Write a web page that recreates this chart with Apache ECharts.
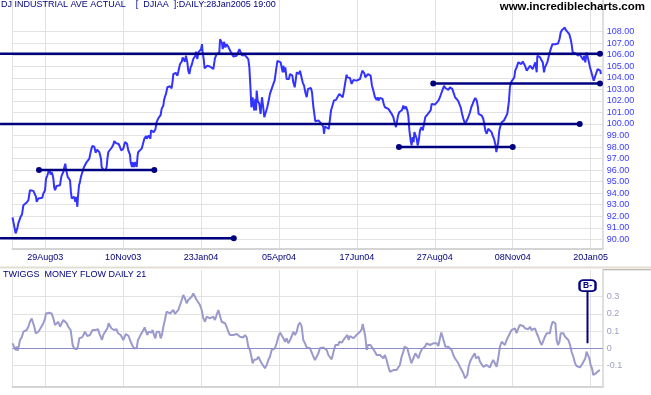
<!DOCTYPE html>
<html><head><meta charset="utf-8">
<script src="https://cdn.jsdelivr.net/npm/echarts@6/dist/echarts.min.js"></script>
<style>html,body{margin:0;padding:0;background:#fff}#c{width:651px;height:395px}</style>
</head><body><div id="c"></div>
<script>
// trading-day index on x (0 = first day shown)
const xTickDays = [21, 71, 121, 171, 221, 271, 321, 371];
const xTickLabels = ['29Aug03','10Nov03','23Jan04','05Apr04','17Jun04','27Aug04','08Nov04','20Jan05'];
const priceTicks = [90,91,92,93,94,95,96,97,98,99,100,101,102,103,104,105,106,107,108];
const flowTicks = [-0.1, 0, 0.1, 0.2, 0.3];

const priceData = [[0,91.90],[1,91.95],[2,90.52],[3.1,90.95],[3.7,91.38],[4.4,91.23],[5.2,91.95],[6.1,92.16],[7,92.96],[8,92.82],[9.1,93.19],[10.2,93.39],[11.2,94.26],[12.3,94.34],[13.4,94.20],[14,94.11],[15.1,93.68],[15.5,93.25],[16.6,93.54],[17.6,93.45],[19.1,93.60],[19.8,93.97],[20.9,94.26],[21.5,95.26],[22.4,95.55],[23,95.84],[23.6,96.07],[24.5,95.61],[25.1,95.84],[25.8,95.55],[26.2,95.26],[26.8,94.49],[27.3,94.26],[28.3,94.63],[29.4,94.55],[30.5,94.69],[31.1,95.26],[31.6,95.55],[32.2,95.41],[32.6,95.84],[33.3,96.27],[33.9,96.56],[34.3,96.13],[34.8,95.98],[35.4,95.41],[36,95.55],[36.9,95.12],[37.5,94.11],[38,93.54],[38.6,93.39],[39.5,93.68],[40.3,93.25],[41,93.68],[41.6,92.82],[42,93.68],[42.7,94.69],[43.3,94.98],[43.9,95.41],[45,95.90],[45.9,96.27],[46.5,96.42],[47.6,96.70],[48.7,96.79],[49.3,96.99],[49.7,97.28],[50.4,97.71],[51.2,98.09],[52.5,98.03],[53.4,97.51],[54.2,97.77],[54.9,97.71],[55.7,97.57],[56.8,96.99],[57.2,96.27],[58.1,96.07],[58.7,95.90],[59.6,95.98],[60.4,96.27],[60.9,96.99],[61.5,97.57],[62.6,97.71],[63.6,97.94],[64.7,98.20],[65.3,98.52],[66.4,98.34],[67.3,98.49],[68.1,98.26],[69,98.00],[69.8,97.71],[70.5,97.57],[71.1,97.86],[72.2,98.43],[72.8,98.43],[73.5,98.29],[74.3,97.71],[75.4,97.34],[75.8,96.70],[76.3,96.85],[76.7,96.27],[77.1,96.70],[78,96.27],[78.8,96.70],[79.7,96.27],[80.3,97.28],[80.7,97.57],[81.8,97.71],[82.9,97.86],[84,98.00],[84.6,98.72],[85.2,98.58],[85.7,98.95],[86.1,98.72],[86.7,98.58],[87.4,99.01],[87.8,99.15],[88.5,98.72],[88.9,99.44],[89.5,99.35],[89.9,99.58],[90.6,99.29],[91,99.44],[91.7,99.53],[92.5,100.16],[93.4,100.45],[94.2,100.59],[95.1,100.79],[95.7,101.31],[96.4,101.45],[96.8,101.60],[97.2,102.03],[97.9,102.40],[98.5,102.61],[99.4,103.18],[100,103.32],[101.1,103.27],[102.1,103.09],[102.8,103.76],[103.2,104.33],[103.9,104.48],[104.9,104.42],[105.8,104.19],[106.4,104.53],[106.8,104.42],[107.5,105.20],[108.6,105.40],[109.2,105.77],[110.3,105.63],[110.7,105.40],[111.3,105.92],[112.2,105.34],[112.8,104.62],[113.5,104.33],[114.3,104.91],[115,105.11],[116,105.63],[117.1,105.86],[117.8,106.26],[118.6,105.63],[119.3,106.20],[119.9,106.35],[121,106.49],[121.6,106.92],[122,106.20],[122.7,105.63],[123.3,104.82],[124.2,104.76],[125,105.05],[125.7,104.91],[126.7,104.99],[127.8,104.91],[128.9,104.76],[129.9,105.69],[131,106.06],[132.1,106.14],[132.7,106.20],[133.2,107.35],[133.8,107.21],[134.4,107.01],[134.9,106.49],[135.7,107.12],[136.6,106.64],[137.4,106.92],[138.5,106.69],[139.1,106.64],[140,106.26],[141.1,106.14],[141.7,105.86],[142.8,105.97],[143.9,105.92],[145,105.97],[145.6,106.49],[146.4,106.64],[147.1,105.97],[148.1,105.97],[149.2,105.97],[150.3,105.97],[151.3,105.63],[152,104.91],[152.4,103.90],[152.8,102.89],[153.3,101.45],[153.7,101.31],[154.1,102.32],[154.5,101.74],[155.2,101.17],[155.8,102.17],[156.3,101.17],[156.7,102.89],[157.3,102.03],[158.4,101.74],[159.2,100.88],[160.1,102.32],[160.9,101.45],[161.6,100.59],[162.7,100.59],[163.5,101.45],[164.4,102.03],[165.2,102.61],[166.3,103.04],[167.4,103.47],[168.2,103.76],[169.1,104.62],[170,105.48],[171.2,105.63],[172.1,105.34],[172.7,104.91],[173.4,104.48],[173.8,105.05],[174.4,104.48],[175.1,104.91],[175.9,103.90],[176.6,103.76],[177.4,103.90],[178.1,104.33],[178.7,104.48],[179.6,104.19],[180.2,103.61],[181.1,103.18],[181.7,103.76],[182.4,104.48],[183,104.62],[183.9,104.33],[184.5,104.62],[185.3,104.71],[186.2,103.61],[187.1,103.32],[187.9,102.75],[188.8,102.32],[189.6,103.04],[190.5,103.18],[191.5,103.12],[192.2,102.75],[193.1,101.45],[193.7,100.88],[194.3,100.24],[195.2,100.07],[196.3,100.30],[197.3,100.36],[198.4,100.01],[199.5,99.73],[199.9,99.15],[200.5,99.78],[201.6,99.67],[203,99.58],[203.7,99.60],[204.4,101.17],[206.3,102.03],[207.6,102.09],[208.4,102.03],[209.7,102.61],[210.6,102.46],[211.9,102.32],[212.7,102.89],[213.4,103.47],[214.4,104.27],[214.9,104.04],[215.7,103.90],[216.6,103.99],[217.6,103.47],[218.7,103.81],[219.8,103.90],[220.8,103.76],[221.9,103.81],[223,103.90],[223.6,104.19],[224.5,104.62],[225.1,104.76],[225.8,104.39],[226.4,104.04],[227.3,103.90],[228.1,104.33],[229,104.48],[229.8,104.19],[230.7,103.32],[231.6,102.89],[232.6,102.32],[233.7,102.09],[234.3,102.32],[234.9,102.03],[235.8,102.26],[236.5,102.32],[237.5,102.17],[238.2,101.74],[239,101.45],[240.1,101.40],[241.2,101.31],[242.2,101.17],[243.3,100.88],[244.4,100.59],[245.4,100.01],[246.1,99.73],[246.7,99.58],[247.4,100.73],[248.2,101.02],[249.1,101.17],[250,101.22],[250.8,101.60],[251.6,101.31],[252.5,101.51],[253.4,101.17],[254,100.73],[254.7,99.44],[255.5,98.58],[256.1,98.14],[256.8,98.86],[257.4,98.43],[257.9,99.29],[258.5,99.44],[259.4,98.72],[260,98.14],[260.7,98.58],[261.5,99.44],[262.4,99.73],[263.3,99.44],[264.1,100.01],[264.9,100.59],[265.8,100.73],[266.6,100.88],[267.5,100.73],[268.3,101.17],[269,101.74],[270,101.89],[271.1,101.68],[272.2,101.74],[273.3,102.03],[274.3,102.32],[275.4,102.75],[276,102.95],[276.9,103.32],[277.8,103.12],[278.6,103.24],[279.7,102.95],[280.7,103.18],[281.4,103.12],[282.2,103.04],[283.3,102.61],[284,102.32],[285,102.46],[285.9,102.03],[286.8,102.17],[287.6,101.45],[288.5,100.88],[289.3,100.45],[290.4,100.01],[291.4,99.96],[292.1,100.45],[292.7,100.59],[293.6,101.02],[294.4,101.45],[295.3,101.74],[296.1,102.03],[297,102.26],[297.9,102.03],[298.7,101.45],[299.1,100.88],[300,101.02],[301.1,100.73],[302.1,100.45],[302.8,99.96],[303.4,99.44],[304.3,99.15],[305.3,99.58],[306.4,99.44],[307.4,99.29],[308.1,99.01],[309,98.72],[309.8,98.29],[310.5,97.57],[311.3,97.71],[311.7,98.43],[312.4,99.44],[313.2,99.87],[314,100.16],[315.4,100.30],[316.6,100.45],[317.5,100.88],[318.1,101.45],[318.6,102.03],[319.2,103.18],[319.9,103.61],[320.9,103.76],[322,104.04],[322.6,104.62],[323.5,104.91],[324.6,105.34],[325.7,105.48],[326.5,105.19],[327.4,105.43],[328.2,105.34],[328.9,105.05],[330,104.62],[331,104.76],[332.1,105.05],[333,105.19],[333.8,104.76],[334.7,104.91],[335.5,105.34],[336.4,104.48],[336.8,105.92],[337.7,106.06],[338.6,105.77],[339.4,105.54],[340.3,105.34],[341.1,104.48],[341.7,104.91],[342.4,105.05],[343.2,105.34],[343.9,105.48],[344.5,106.06],[345.4,106.49],[346.5,106.92],[347.1,107.07],[348.2,106.92],[349.2,106.78],[350.1,106.98],[351,107.35],[351.8,107.93],[352.5,108.13],[353.5,108.02],[354.4,108.36],[355.2,108.13],[356.3,108.22],[357.3,107.79],[358.2,107.35],[358.8,106.92],[359.5,106.20],[360.3,106.12],[361.4,106.12],[362.4,106.06],[363.1,105.92],[363.7,106.12],[364.6,105.92],[365.4,106.06],[366.3,105.54],[366.9,105.92],[367.6,105.34],[368.4,106.20],[369.3,106.06],[369.8,105.43],[370.6,104.91],[371.5,104.48],[372.4,104.04],[373,103.76],[373.9,103.70],[374.4,104.33],[375.5,104.76],[376.3,104.91],[377.2,104.62],[377.6,104.33]];

const flowData = [[0.1,0.030],[1,0.020],[1.8,-0.009],[2.7,0.010],[3.3,-0.013],[4.2,0.020],[4.8,0.049],[5.9,0.064],[7,0.097],[8,0.092],[9.1,0.107],[10.2,0.126],[11.2,0.155],[12.3,0.174],[13.4,0.165],[14,0.126],[14.9,0.088],[15.7,0.078],[16.6,0.097],[17.6,0.111],[18.7,0.117],[19.8,0.146],[20.9,0.174],[21.5,0.203],[22.6,0.213],[23.6,0.207],[25.1,0.203],[26.2,0.174],[27.3,0.136],[28.3,0.136],[29.4,0.155],[30.5,0.126],[31.6,0.146],[32.6,0.165],[33.7,0.155],[34.8,0.146],[35.8,0.126],[36.5,0.136],[37.3,0.107],[37.9,0.068],[38.6,0.020],[39.5,0.001],[40.3,0.010],[41.2,-0.005],[42,0.014],[42.9,0.059],[43.7,0.068],[44.6,0.064],[45.5,0.078],[46.5,0.097],[47.2,0.088],[48,0.072],[48.9,0.068],[49.7,0.078],[50.6,0.088],[51.4,0.107],[52.3,0.117],[53.2,0.107],[54,0.103],[54.9,0.111],[55.7,0.088],[56.6,0.068],[57.4,0.049],[58.3,0.078],[59.1,0.092],[60,0.088],[60.9,0.117],[61.7,0.146],[62.6,0.146],[63.4,0.117],[64.3,0.107],[65.1,0.107],[66,0.097],[66.8,0.111],[67.7,0.088],[68.6,0.097],[69.4,0.078],[70.3,0.064],[71.1,0.049],[72,0.068],[72.8,0.084],[73.7,0.092],[74.5,0.072],[75.4,0.049],[76.3,0.030],[77.1,0.014],[78,0.001],[78.8,0.006],[79.7,0.001],[80.5,0.049],[81.4,0.064],[82.2,0.078],[83.1,0.072],[84,0.107],[84.8,0.122],[85.7,0.097],[86.5,0.078],[87.4,0.097],[88.2,0.107],[89.1,0.092],[89.9,0.107],[90.8,0.078],[91.7,0.059],[92.5,0.097],[93.4,0.107],[94.2,0.097],[95.1,0.059],[95.9,0.078],[96.8,0.126],[97.9,0.169],[98.9,0.213],[100,0.223],[101.1,0.203],[102.1,0.194],[103.2,0.223],[104.3,0.200],[105.3,0.203],[106.4,0.223],[107.5,0.252],[108.6,0.281],[109.6,0.310],[110.7,0.290],[111.8,0.261],[112.8,0.281],[113.9,0.281],[115,0.300],[116,0.319],[117.1,0.310],[118.2,0.281],[119.3,0.290],[120.3,0.252],[121.4,0.223],[122.5,0.174],[123.5,0.155],[124.6,0.184],[125.7,0.188],[126.7,0.174],[127.8,0.174],[128.9,0.184],[129.9,0.165],[131,0.194],[132.1,0.223],[133.2,0.233],[134.2,0.155],[135.3,0.161],[136.4,0.146],[137.4,0.126],[138.5,0.097],[139.6,0.078],[140.6,0.072],[141.7,0.078],[142.8,0.088],[143.9,0.084],[144.9,0.078],[146,0.068],[147.1,0.072],[148.1,0.064],[149.2,0.078],[150.3,0.064],[151.3,0.010],[152.4,-0.009],[153.5,-0.057],[154.1,-0.086],[155,-0.067],[155.8,-0.077],[156.7,-0.063],[157.8,-0.048],[158.8,-0.067],[159.9,-0.086],[161,-0.096],[162,-0.115],[163.1,-0.096],[164.2,-0.067],[165.2,-0.048],[166.3,-0.009],[167.4,0.001],[168.4,0.001],[169.5,0.030],[170.6,0.068],[171.7,0.092],[172.7,0.084],[173.8,0.059],[174.9,0.039],[175.9,0.059],[177,0.030],[178.1,0.049],[179.1,0.068],[180.2,0.097],[181.3,0.078],[182.4,0.097],[183.4,0.136],[184.5,0.150],[185.6,0.126],[186.6,0.049],[187.7,0.030],[188.8,0.006],[189.8,0.010],[190.9,0.001],[192,-0.009],[193.1,-0.048],[194.1,-0.067],[195.2,-0.057],[196.3,-0.028],[197.3,0.001],[198.4,-0.009],[199.5,0.006],[200.5,0.001],[201.6,-0.009],[202.7,-0.038],[203.7,-0.048],[204.8,-0.063],[205.5,-0.038],[206.3,-0.009],[207.2,0.020],[208,0.030],[209.1,0.020],[209.7,0.039],[210.6,0.049],[211.4,0.034],[212.3,0.030],[213.1,0.059],[214,0.068],[214.9,0.078],[215.7,0.049],[216.6,0.072],[217.6,0.064],[218.7,0.059],[219.8,0.068],[220.8,0.078],[221.9,0.072],[223,0.097],[224.1,0.111],[224.7,0.142],[225.6,0.107],[226.4,0.068],[227.3,-0.009],[228.1,0.020],[229,0.030],[229.8,0.020],[230.7,0.006],[231.5,0.001],[232.6,-0.019],[233.7,-0.038],[234.8,-0.048],[235.8,-0.038],[236.9,-0.048],[238,-0.057],[239,-0.038],[240.1,-0.067],[241.2,-0.106],[242.2,-0.135],[243.3,-0.144],[244.4,-0.125],[245.4,-0.135],[246.5,-0.125],[247.6,-0.135],[248.6,-0.096],[249.7,-0.048],[250.8,-0.019],[251.6,0.010],[252.5,0.020],[253.4,0.001],[254.2,-0.028],[255.1,-0.019],[256,-0.086],[256.8,-0.067],[257.7,-0.048],[258.5,-0.028],[259.4,-0.019],[260.5,-0.057],[261.5,-0.028],[262.6,-0.005],[263.6,-0.009],[264.7,0.010],[265.8,0.030],[266.8,0.034],[267.9,0.020],[269,0.014],[270,0.030],[271.1,0.039],[272.2,0.030],[273.3,0.014],[274.3,0.059],[275.2,0.092],[276,0.068],[276.9,0.039],[277.8,0.010],[278.6,0.020],[279.7,0.010],[280.7,0.001],[281.8,-0.009],[282.9,-0.038],[283.9,-0.057],[285,-0.067],[286.1,-0.086],[287.1,-0.106],[288.2,-0.125],[289.3,-0.144],[290.4,-0.173],[291,-0.183],[291.9,-0.154],[292.7,-0.106],[293.6,-0.077],[294.7,-0.057],[295.7,-0.048],[296.6,-0.028],[297.4,-0.057],[298.3,-0.067],[299.1,-0.048],[300,-0.077],[301.1,-0.086],[302.1,-0.106],[303.2,-0.115],[304.3,-0.096],[305.3,-0.086],[306.4,-0.110],[307.4,-0.086],[308.5,-0.067],[309.6,-0.057],[310.7,-0.106],[311.7,-0.057],[312.8,0.010],[313.9,0.039],[314.9,0.049],[316,0.020],[317.1,0.049],[318.2,0.039],[319.2,0.088],[320.3,0.107],[321.4,0.097],[322.4,0.117],[323.5,0.088],[324.6,0.117],[325.6,0.136],[326.7,0.126],[327.8,0.130],[328.9,0.117],[329.9,0.126],[331,0.111],[332.1,0.126],[333.1,0.107],[334.2,0.097],[335.3,0.117],[336.4,0.088],[337.4,0.068],[338.5,0.039],[339.6,0.020],[340.6,0.020],[341.7,0.068],[342.8,0.088],[343.9,0.097],[344.9,0.088],[345.6,0.126],[346.6,0.155],[347.5,0.161],[348.4,0.146],[349.2,0.049],[350.1,0.020],[351,0.039],[351.8,0.088],[352.6,0.097],[353.5,0.088],[354.6,0.068],[355.6,0.064],[356.7,0.049],[357.8,0.020],[358.8,-0.019],[359.9,-0.048],[361,-0.086],[362,-0.102],[363.1,-0.106],[364.2,-0.110],[365.2,-0.102],[365.9,-0.086],[366.7,-0.077],[367.6,-0.057],[368.4,-0.019],[369.3,-0.028],[370.2,-0.057],[371,-0.096],[371.9,-0.115],[372.7,-0.154],[373.6,-0.164],[374.4,-0.144],[375.3,-0.140],[376.2,-0.129],[377,-0.125]];

// support / resistance lines: [fromDay, toDay, level]; a line starting before day 0 runs off the chart's left edge
const trendLines = [[-8, 377, 106.1], [-8, 364, 100.0], [17, 91, 96.0], [-8, 142, 90.1], [270, 377, 103.5], [248, 321, 98.0]];

// money-flow signal
const signalDay = 369;
const signalFrom = 0.03;
const signalTo = 0.335;
const signalBoxValue = 0.364;
const signalText = 'B-';

const FONT = 'Liberation Sans, Arial, sans-serif';
const NAVY = '#000080';
const GRID_C = '#e2e2e2';
const AXIS_C = '#d4d4d4';

const chart = echarts.init(document.getElementById('c'), null, {renderer: 'canvas'});

const option = {
  animation: false,
  backgroundColor: '#ffffff',
  textStyle: {fontFamily: FONT},
  title: [
    {text: 'DJ INDUSTRIAL AVE ACTUAL    [  DJIAA  ]:DAILY:28Jan2005 19:00', left: 1, top: 0, padding: 0,
     textStyle: {fontSize: 9, fontWeight: 'normal', color: NAVY, fontFamily: FONT}},
    {text: 'www.incrediblecharts.com', right: 6, top: 1, padding: 0,
     textStyle: {fontSize: 11.5, fontWeight: 'bold', color: '#000000', fontFamily: FONT}},
    {text: 'TWIGGS  MONEY FLOW DAILY 21', left: 3, top: 270, padding: 0,
     textStyle: {fontSize: 9, fontWeight: 'normal', color: NAVY, fontFamily: FONT}}
  ],
  grid: [
    {left: 12.5, right: 48.3, top: 0, height: 248.3},
    {left: 12.5, right: 48.3, top: 270, height: 116.7}
  ],
  xAxis: [
    {gridIndex: 0, type: 'value', min: 0, max: 378.75,
     axisLine: {show: true, onZero: false, lineStyle: {color: AXIS_C, width: 2}},
     axisTick: {show: false, customValues: [0].concat(xTickDays)},
     axisLabel: {customValues: xTickDays, margin: 5, fontSize: 9, color: NAVY, fontFamily: FONT,
                 formatter: v => xTickLabels[xTickDays.indexOf(Math.round(v))]},
     splitLine: {show: true, lineStyle: {color: GRID_C, width: 1}}},
    {gridIndex: 1, type: 'value', min: 0, max: 378.75,
     axisLine: {show: true, onZero: false, lineStyle: {color: AXIS_C, width: 2}},
     axisTick: {show: false, customValues: [0].concat(xTickDays)},
     axisLabel: {show: false},
     splitLine: {show: true, lineStyle: {color: GRID_C, width: 1}}}
  ],
  yAxis: [
    {gridIndex: 0, type: 'value', position: 'right', min: 89.22, max: 110.75,
     axisLine: {show: true, onZero: false, lineStyle: {color: AXIS_C, width: 1.5}},
     axisTick: {show: false, customValues: priceTicks},
     axisLabel: {customValues: priceTicks, margin: 4, fontSize: 9, color: '#3a3aff', fontFamily: FONT,
                 formatter: v => v.toFixed(2)},
     splitLine: {show: true, lineStyle: {color: GRID_C, width: 1}}},
    {gridIndex: 1, type: 'value', position: 'right', min: -0.2217, max: 0.4548,
     axisLine: {show: true, onZero: false, lineStyle: {color: AXIS_C, width: 1.5}},
     axisTick: {show: false, customValues: flowTicks},
     axisLabel: {customValues: flowTicks, margin: 4, fontSize: 9, color: '#9c9cc8', fontFamily: FONT,
                 formatter: v => String(Math.round(v * 10) / 10)},
     splitLine: {show: true, lineStyle: {color: GRID_C, width: 1}}}
  ],
  graphic: [
    {type: 'rect', silent: true, shape: {x: 0, y: 266.4, width: 651, height: 2}, style: {fill: '#e2ded4'}},
    {type: 'rect', silent: true, shape: {x: 602.7, y: 269.2, width: 48.3, height: 1}, style: {fill: '#a8a498'}}
  ],
  series: [
    {type: 'line', name: 'DJIAA', xAxisIndex: 0, yAxisIndex: 0, data: priceData, showSymbol: false, z: 3,
     silent: true, lineStyle: {color: '#3333ff', width: 2}},
    {type: 'custom', name: 'trend', xAxisIndex: 0, yAxisIndex: 0, data: trendLines, clip: false, z: 4,
     silent: true, encode: {x: [0, 1], y: 2},
     renderItem: (params, api) => {
       const a = api.value(0), b = api.value(1), lv = api.value(2);
       const p1 = api.coord([a, lv]);
       const p2 = api.coord([b, lv]);
       const children = [
         {type: 'line', shape: {x1: p1[0], y1: p1[1], x2: p2[0], y2: p2[1]},
          style: {stroke: NAVY, lineWidth: 2.5}},
         {type: 'circle', shape: {cx: p2[0], cy: p2[1], r: 3}, style: {fill: NAVY}}
       ];
       if (a >= 0) children.push({type: 'circle', shape: {cx: p1[0], cy: p1[1], r: 3}, style: {fill: NAVY}});
       return {type: 'group', children};
     }},
    {type: 'line', name: 'TMF21', xAxisIndex: 1, yAxisIndex: 1, data: flowData, showSymbol: false, z: 3,
     silent: true, lineStyle: {color: '#9a9acc', width: 2},
     markLine: {silent: true, symbol: ['none', 'none'], label: {show: false},
                lineStyle: {color: '#8c8cc8', width: 1, type: 'solid'}, data: [{yAxis: 0}]}},
    {type: 'line', xAxisIndex: 1, yAxisIndex: 1, data: [[signalDay, signalFrom], [signalDay, signalTo]],
     showSymbol: false, z: 5, silent: true, lineStyle: {color: NAVY, width: 2}},
    {type: 'scatter', xAxisIndex: 1, yAxisIndex: 1, data: [[signalDay, signalBoxValue]], z: 6, silent: true,
     symbol: 'roundRect', symbolSize: [16, 11],
     itemStyle: {color: '#ffffff', borderColor: NAVY, borderWidth: 2, opacity: 1},
     label: {show: true, position: 'inside', formatter: signalText, fontSize: 8.5, fontWeight: 'bold',
             color: NAVY, fontFamily: FONT}}
  ]
};
chart.setOption(option);
</script>
</body></html>
